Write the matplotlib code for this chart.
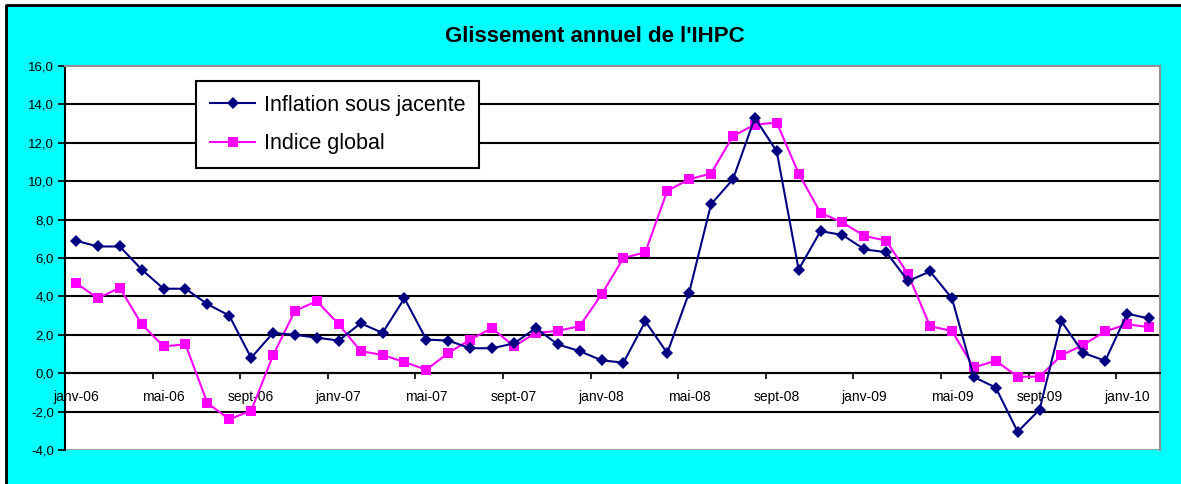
import numpy as np
import matplotlib.pyplot as plt
from matplotlib.patches import Rectangle
from matplotlib.lines import Line2D

plt.rcParams['font.family'] = ['Liberation Sans', 'DejaVu Sans']

labels = ["janv-06", "mai-06", "sept-06", "janv-07", "mai-07", "sept-07", "janv-08",
          "mai-08", "sept-08", "janv-09", "mai-09", "sept-09", "janv-10"]

# monthly, janv-06 .. fev-10
sous_jacente = [6.9, 6.6, 6.6, 5.4, 4.4, 4.4, 3.6, 3.0, 0.8, 2.1,
                2.0, 1.85, 1.7, 2.6, 2.1, 3.9, 1.75, 1.7, 1.3, 1.3,
                1.55, 2.35, 1.5, 1.15, 0.67, 0.55, 2.7, 1.05, 4.2, 8.8,
                10.1, 13.3, 11.55, 5.4, 7.4, 7.2, 6.45, 6.3, 4.8, 5.3,
                3.9, -0.2, -0.75, -3.05, -1.9, 2.7, 1.05, 0.65, 3.1, 2.85]
indice_global = [4.7, 3.9, 4.45, 2.55, 1.4, 1.5, -1.55, -2.4, -1.95, 0.93,
                 3.25, 3.75, 2.55, 1.15, 0.95, 0.58, 0.18, 1.05, 1.75, 2.35,
                 1.4, 2.1, 2.2, 2.45, 4.1, 6.0, 6.3, 9.5, 10.1, 10.4,
                 12.35, 12.95, 13.05, 10.4, 8.35, 7.85, 7.15, 6.9, 5.15, 2.45,
                 2.2, 0.3, 0.65, -0.18, -0.18, 0.93, 1.48, 2.18, 2.55, 2.4]

x = np.arange(len(sous_jacente))

W, H = 1181, 484
fig = plt.figure(figsize=(W / 100, H / 100), dpi=100, facecolor='white')
# cyan chart area, cropped on the right and bottom
x0, y1 = 6 / W, 1 - 4.5 / H
fig.add_artist(Rectangle((x0, 0), 1 - x0, y1, transform=fig.transFigure,
                         facecolor='#00FFFF', edgecolor='none', zorder=-2))
fig.add_artist(Line2D([x0, x0, 1], [0, y1, y1], transform=fig.transFigure,
                      color='black', lw=2, zorder=-1))

ax = fig.add_axes([65 / W, 34 / H, 1095 / W, 384 / H])
ax.set_facecolor('white')

ax.plot(x, sous_jacente, color='#000080', lw=1.5, marker='D', ms=6.5,
        mew=0, label='Inflation sous jacente', zorder=4)
ax.plot(x, indice_global, color='#FF00FF', lw=1.5, marker='s', ms=7.5,
        mew=0, label='Indice global', zorder=3)

ax.set_xlim(-0.5, len(x) - 0.5)
ax.set_ylim(-4, 16)
yt = np.arange(-4, 17, 2)
ax.set_yticks(yt)
ax.set_yticklabels([f"{v:.1f}".replace('.', ',') for v in yt], fontsize=9.5)
for v in yt[1:-1]:
    ax.axhline(v, color='black', lw=1.5, zorder=1)
ax.axhline(-4, color='#909090', lw=2, zorder=1)

ax.set_xticks(x[::4])
ax.set_xticklabels(labels, fontsize=8.5)
ax.set_xticks(np.arange(-0.5, len(x), 4), minor=True)
ax.tick_params(axis='x', which='major', length=0, pad=12)
ax.tick_params(axis='x', which='minor', length=4, width=1.2, direction='out')
ax.tick_params(axis='y', length=5, width=1.2, direction='out', pad=3)

ax.spines['bottom'].set_position(('data', 0))
ax.spines['bottom'].set_linewidth(1.5)
ax.spines['left'].set_linewidth(1.5)
for s in ['top', 'right']:
    ax.spines[s].set_color('#909090')
    ax.spines[s].set_linewidth(1.5)

fig.text(595 / W, 1 - 37 / H, "Glissement annuel de l'IHPC", fontsize=16,
         fontweight='bold', ha='center', va='center')

leg = ax.legend(loc='upper left', bbox_to_anchor=(0.1196, 0.961), borderaxespad=0,
                fontsize=15.5, fancybox=False, framealpha=1, edgecolor='black',
                handlelength=2.1, handletextpad=0.4, labelspacing=0.8,
                borderpad=0.65)
leg.get_frame().set_linewidth(1.5)

fig.savefig('out.png', dpi=100, facecolor=fig.get_facecolor())
